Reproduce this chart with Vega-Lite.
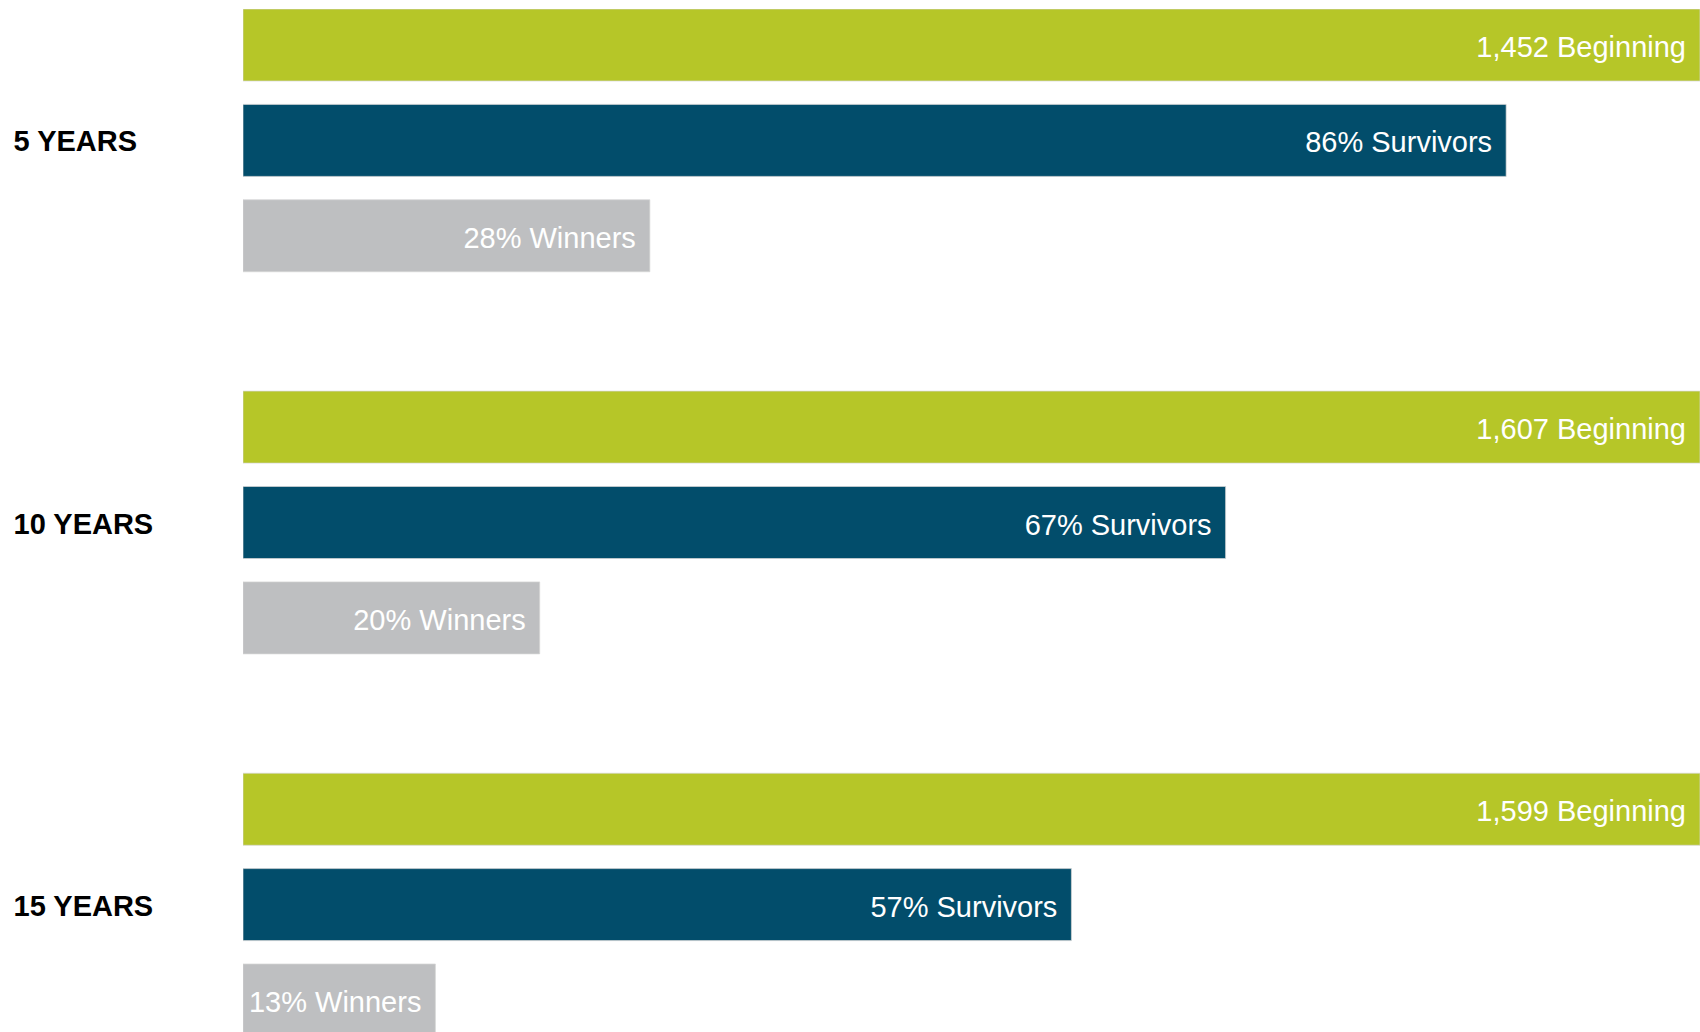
{
  "$schema": "https://vega.github.io/schema/vega-lite/v6.json",
  "width": 1457,
  "height": 1023,
  "autosize": {"type": "none"},
  "padding": {"left": 243, "top": 9, "right": 0, "bottom": 0},
  "background": "white",
  "config": {"view": {"stroke": null}, "font": "Liberation Sans"},
  "data": {
    "values": [
      {"period": "5 YEARS", "type": "Beginning", "value": 100, "label": "1,452 Beginning"},
      {"period": "5 YEARS", "type": "Survivors", "value": 86, "label": "86% Survivors"},
      {"period": "5 YEARS", "type": "Winners", "value": 27.7, "label": "28% Winners"},
      {"period": "10 YEARS", "type": "Beginning", "value": 100, "label": "1,607 Beginning"},
      {"period": "10 YEARS", "type": "Survivors", "value": 66.9, "label": "67% Survivors"},
      {"period": "10 YEARS", "type": "Winners", "value": 20.2, "label": "20% Winners"},
      {"period": "15 YEARS", "type": "Beginning", "value": 100, "label": "1,599 Beginning"},
      {"period": "15 YEARS", "type": "Survivors", "value": 56.4, "label": "57% Survivors"},
      {"period": "15 YEARS", "type": "Winners", "value": 13.1, "label": "13% Winners"}
    ]
  },
  "encoding": {
    "y": {
      "field": "period",
      "type": "nominal",
      "sort": ["5 YEARS", "10 YEARS", "15 YEARS"],
      "scale": {"range": [0, 1027], "paddingInner": 0.3123, "paddingOuter": 0},
      "axis": {
        "title": null,
        "domain": false,
        "ticks": false,
        "tickSize": 0,
        "grid": false,
        "labelPadding": 230,
        "labelAlign": "left",
        "labelFont": "Liberation Sans",
        "labelFontSize": 29,
        "labelFontWeight": "bold",
        "labelColor": "#000000",
        "labelBaseline": "middle",
        "labelOffset": 2,
        "labelLimit": 0
      }
    },
    "yOffset": {
      "field": "type",
      "type": "nominal",
      "sort": ["Beginning", "Survivors", "Winners"],
      "scale": {"paddingInner": 0.245, "paddingOuter": 0}
    },
    "x": {
      "field": "value",
      "type": "quantitative",
      "scale": {"domain": [0, 99.2], "clamp": true, "nice": false, "zero": true},
      "axis": null
    }
  },
  "layer": [
    {
      "mark": {"type": "bar", "clip": true, "stroke": "#d6d6d6", "strokeWidth": 1, "strokeOpacity": 0.7},
      "encoding": {
        "color": {
          "field": "type",
          "type": "nominal",
          "scale": {"domain": ["Beginning", "Survivors", "Winners"], "range": ["#B6C628", "#024D6B", "#BEBFC1"]},
          "legend": null
        }
      }
    },
    {
      "mark": {"type": "text", "clip": true, "align": "right", "baseline": "middle", "dx": -14, "dy": 3, "color": "#ffffff", "fontSize": 29, "font": "Liberation Sans"},
      "encoding": {"text": {"field": "label", "type": "nominal"}}
    }
  ]
}
